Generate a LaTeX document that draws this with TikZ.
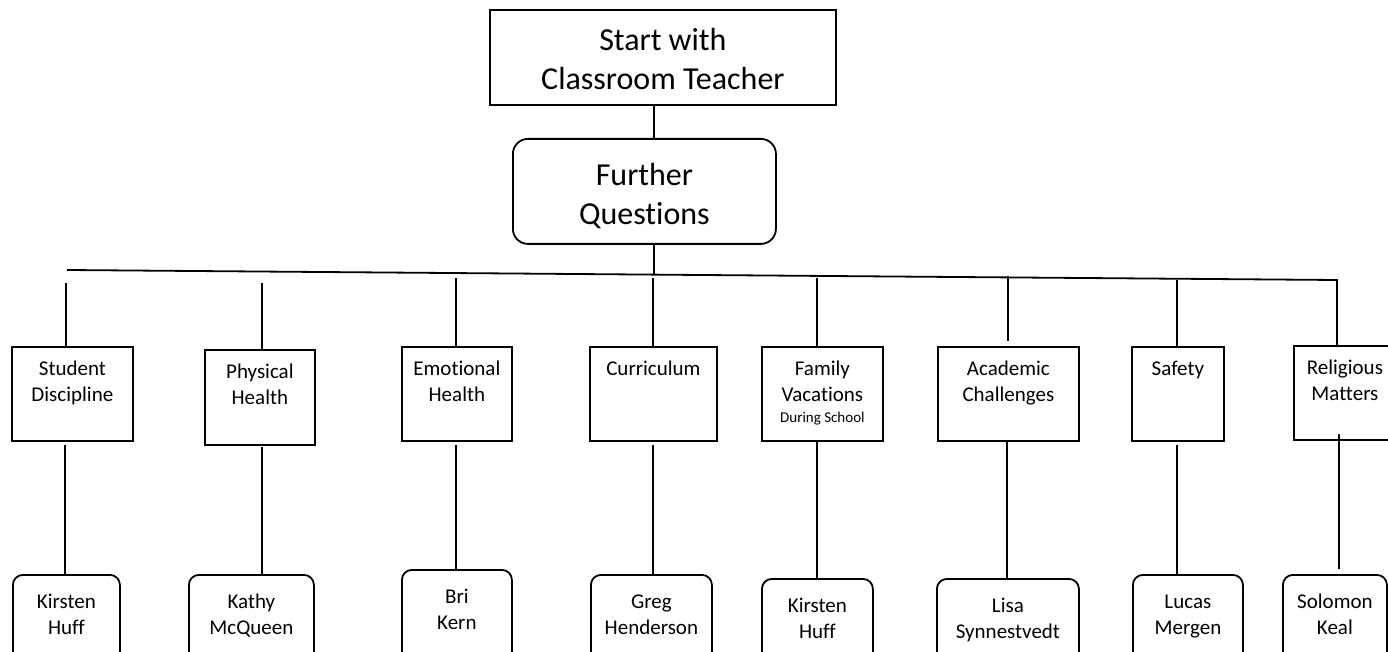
\documentclass[tikz,border=0pt]{standalone}
\usepackage{fontspec}
\setmainfont{Carlito}[Ligatures={NoCommon}]
\newcommand{\fstrut}{\rule{0pt}{16pt}}
\begin{document}
\begin{tikzpicture}[x=1pt,y=-1pt,
  ln/.style={line width=1.8pt},
  sqbox/.style={draw, line width=1.8pt, rectangle, inner sep=0pt, anchor=north west},
  rdbox/.style={sqbox, rounded corners=10pt},
  bigtxt/.style={font=\fontsize{32}{39}\selectfont, align=center},
  cattxt/.style={anchor=north, inner sep=0pt, align=center, font=\fontsize{21}{26.5}\selectfont},
  nametxt/.style={anchor=north, inner sep=0pt, align=center, font=\fontsize{21}{26}\selectfont}]
\useasboundingbox (0,0) rectangle (1388,652);
\clip (0,0) rectangle (1388,652);

% top boxes
\node[sqbox, minimum width=346pt, minimum height=95pt, bigtxt] (top) at (489,9) {\rule{0pt}{26pt}Start with\\Classroom Teacher};
\node[rdbox, rounded corners=15pt, minimum width=263pt, minimum height=105pt, bigtxt] (fq) at (512,138) {\rule{0pt}{32pt}Further\\Questions};

% category boxes
\node[sqbox, minimum width=121pt, minimum height=94pt] (sd) at (11,346) {};
\node[sqbox, minimum width=110pt, minimum height=95pt] (ph) at (204,349) {};
\node[sqbox, minimum width=110pt, minimum height=94pt] (eh) at (401,346) {};
\node[sqbox, minimum width=127pt, minimum height=94pt] (cu) at (589,346) {};
\node[sqbox, minimum width=121pt, minimum height=94pt] (fv) at (761,346) {};
\node[sqbox, minimum width=141pt, minimum height=94pt] (ac) at (937,346) {};
\node[sqbox, minimum width=92pt, minimum height=94pt] (sa) at (1131,346) {};
\node[sqbox, minimum width=102pt, minimum height=94pt] (rm) at (1293,345) {};

\node[cattxt] (sdt) at ([yshift=-13pt]sd.north) {\fstrut Student\\Discipline};
\node[cattxt] (pht) at ([yshift=-13pt]ph.north) {\fstrut Physical\\Health};
\node[cattxt] (eht) at ([yshift=-13pt]eh.north) {\fstrut Emotional\\Health};
\node[cattxt] (cut) at ([yshift=-13pt]cu.north) {\fstrut Curriculum};
\node[cattxt] (fvt) at ([yshift=-13pt]fv.north) {\fstrut Family\\Vacations\\[-6pt]{\fontsize{15}{18}\selectfont During School}};
\node[cattxt] (act) at ([yshift=-13pt]ac.north) {\fstrut Academic\\Challenges};
\node[cattxt] (sat) at ([yshift=-13pt]sa.north) {\fstrut Safety};
\node[cattxt] (rmt) at ([yshift=-13pt]rm.north) {\fstrut Religious\\Matters};

% name boxes
\node[rdbox, minimum width=107pt, minimum height=100pt] (n1) at (12,574) {};
\node[rdbox, minimum width=125pt, minimum height=100pt] (n2) at (188,574) {};
\node[rdbox, minimum width=110pt, minimum height=100pt] (n3) at (401,569) {};
\node[rdbox, minimum width=121pt, minimum height=100pt] (n4) at (590,574) {};
\node[rdbox, minimum width=111pt, minimum height=100pt] (n5) at (761,578) {};
\node[rdbox, minimum width=142pt, minimum height=100pt] (n6) at (936,578) {};
\node[rdbox, minimum width=110pt, minimum height=100pt] (n7) at (1132,574) {};
\node[rdbox, minimum width=104pt, minimum height=100pt] (n8) at (1282,574) {};

\node[nametxt] (n1t) at ([yshift=-18pt]n1.north) {\fstrut Kirsten\\Huff};
\node[nametxt] (n2t) at ([yshift=-18pt]n2.north) {\fstrut Kathy\\McQueen};
\node[nametxt] (n3t) at ([yshift=-18pt]n3.north) {\fstrut Bri\\Kern};
\node[nametxt] (n4t) at ([yshift=-18pt]n4.north) {\fstrut Greg\\Henderson};
\node[nametxt] (n5t) at ([yshift=-18pt]n5.north) {\fstrut Kirsten\\Huff};
\node[nametxt] (n6t) at ([yshift=-18pt]n6.north) {\fstrut Lisa\\Synnestvedt};
\node[nametxt] (n7t) at ([yshift=-18pt]n7.north) {\fstrut Lucas\\Mergen};
\node[nametxt] (n8t) at ([yshift=-18pt]n8.north) {\fstrut Solomon\\Keal};

% spine
\coordinate (sp) at (654,275);
\draw[ln] (top.south -| sp) -- (fq.north -| sp);
\draw[ln] (fq.south -| sp) -- (sp);

% horizontal bar
\coordinate (hl) at (67,270);
\coordinate (hr) at (1337,280);
\draw[ln] (hl) -- (hr) -- (hr |- rm.north);

% upper drops
\coordinate (t1) at (66,283);
\coordinate (t2) at (262,283);
\coordinate (t3) at (456,278);
\coordinate (t4) at (653,278);
\coordinate (t5) at (817,278);
\coordinate (t6) at (1008,276);
\coordinate (t6e) at (1008,341);
\coordinate (t7) at (1177,280);
\draw[ln] (t1) -- (t1 |- sd.north);
\draw[ln] (t2) -- (t2 |- ph.north);
\draw[ln] (t3) -- (t3 |- eh.north);
\draw[ln] (t4) -- (t4 |- cu.north);
\draw[ln] (t5) -- (t5 |- fv.north);
\draw[ln] (t6) -- (t6e);
\draw[ln] (t7) -- (t7 |- sa.north);

% lower drops
\coordinate (b1) at (65,445);
\coordinate (b2) at (262,447);
\coordinate (b3) at (456,445);
\coordinate (b4) at (653,445);
\coordinate (b5) at (817,440);
\coordinate (b6) at (1007,440);
\coordinate (b7) at (1177,445);
\coordinate (b8) at (1339,434);
\coordinate (b8e) at (1339,569);
\draw[ln] (b1) -- (b1 |- n1.north);
\draw[ln] (b2) -- (b2 |- n2.north);
\draw[ln] (b3) -- (b3 |- n3.north);
\draw[ln] (b4) -- (b4 |- n4.north);
\draw[ln] (b5) -- (b5 |- n5.north);
\draw[ln] (b6) -- (b6 |- n6.north);
\draw[ln] (b7) -- (b7 |- n7.north);
\draw[ln] (b8) -- (b8e);
\end{tikzpicture}
\end{document}
